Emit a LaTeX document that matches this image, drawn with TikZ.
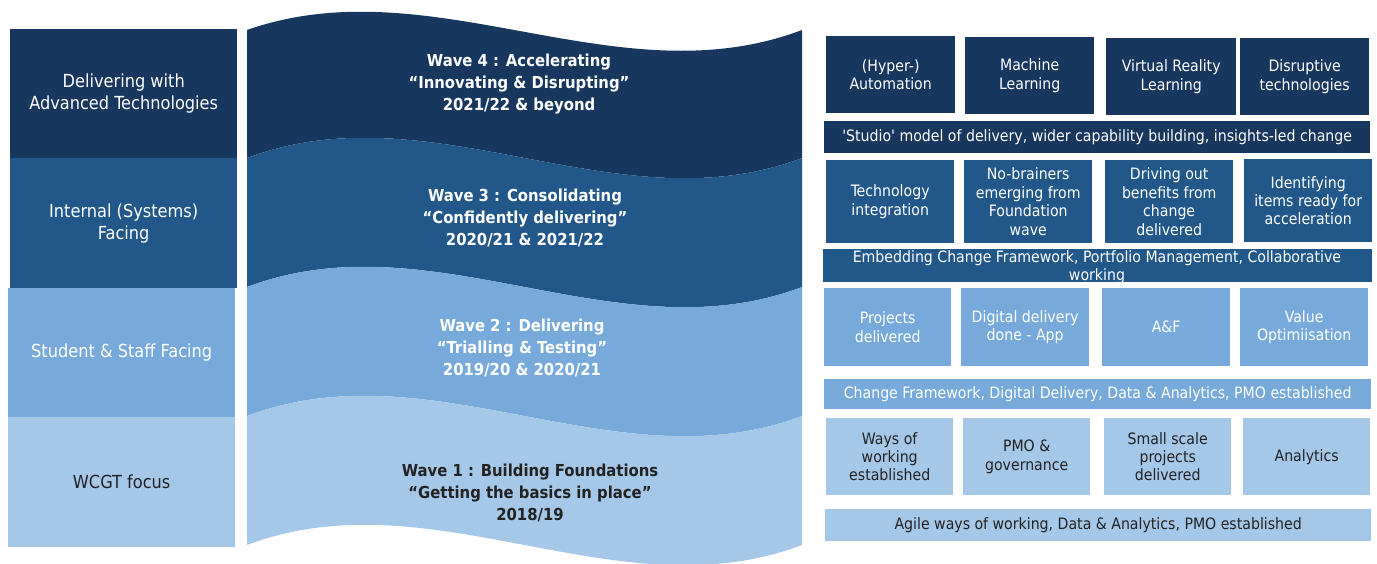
\documentclass[tikz,border=0pt]{standalone}
\usepackage{fontspec}
\setmainfont{DejaVu Sans Condensed}
\definecolor{cA}{HTML}{17375E}
\definecolor{cB}{HTML}{22578A}
\definecolor{cC}{HTML}{77AADB}
\definecolor{cD}{HTML}{A6C8E8}
\definecolor{tD}{HTML}{222222}
\newcommand{\bx}[8]{\node[fill=#6,text=#7,minimum width={#4-#2},minimum height={#5-#3},anchor=north west,inner sep=0pt,align=center] (#1) at (#2,#3) {#8};}
\tikzset{
  big/.style={font=\fontsize{18}{22}\selectfont},
  bigb/.style={font=\fontsize{16.5}{22}\selectfont\bfseries, align=center, inner sep=0pt},
  sm/.style={font=\fontsize{15.7}{18.4}\selectfont},
}
\begin{document}
\begin{tikzpicture}[x=1pt,y=-1pt]
\useasboundingbox (0,0) rectangle (1377,563);
% left column
\begin{scope}[big]
\bx{l4}{10}{29}{237}{158}{cA}{white}{Delivering with\\Advanced Technologies}
\bx{l3}{10}{158}{237}{288}{cB}{white}{Internal (Systems)\\Facing}
\bx{l2}{8}{288}{235}{417}{cC}{white}{Student \& Staff Facing}
\bx{l1}{8}{417}{235}{547}{cD}{tD}{WCGT focus}
\end{scope}
% waves
\fill[cA] (247,30) .. controls (432,-35) and (617,100) .. (802,30) -- (802,158) .. controls (617,228) and (432,88) .. (247,158) -- cycle;
\fill[cB] (247,158) .. controls (432,88) and (617,228) .. (802,158) -- (802,287) .. controls (617,357) and (432,217) .. (247,287) -- cycle;
\fill[cC] (247,287) .. controls (432,217) and (617,357) .. (802,287) -- (802,416) .. controls (617,486) and (432,346) .. (247,416) -- cycle;
\fill[cD] (247,416) .. controls (432,346) and (617,486) .. (802,416) -- (802,545) .. controls (617,615) and (432,475) .. (247,545) -- cycle;
\node[bigb,text=white] (w4) at (519,84) {Wave 4 : Accelerating\\“Innovating \& Disrupting”\\2021/22 \& beyond};
\node[bigb,text=white] (w3) at (525,218) {Wave 3 : Consolidating\\“Confidently delivering”\\2020/21 \& 2021/22};
\node[bigb,text=white] (w2) at (522,348) {Wave 2 : Delivering\\“Trialling \& Testing”\\2019/20 \& 2020/21};
\node[bigb,text=tD] (w1) at (530,493) {Wave 1 : Building Foundations\\“Getting the basics in place”\\2018/19};
% right panel
\begin{scope}[sm]
\bx{a1}{826}{36}{955}{113}{cA}{white}{(Hyper-)\\Automation}
\bx{a2}{965}{37}{1094}{114}{cA}{white}{Machine\\Learning}
\bx{a3}{1106}{38}{1236}{115}{cA}{white}{Virtual Reality\\Learning}
\bx{a4}{1240}{38}{1369}{115}{cA}{white}{Disruptive\\technologies}
\bx{sa}{824}{121}{1370}{153}{cA}{white}{\textquotesingle Studio\textquotesingle\ model of delivery, wider capability building, insights-led change}
\bx{b1}{826}{160}{954}{243}{cB}{white}{Technology\\integration}
\bx{b2}{964}{160}{1092}{243}{cB}{white}{No-brainers\\emerging from\\Foundation\\wave}
\bx{b3}{1105}{160}{1233}{243}{cB}{white}{Driving out\\benefits from\\change\\delivered}
\bx{b4}{1244}{159}{1372}{242}{cB}{white}{Identifying\\items ready for\\acceleration}
\fill[cB] (823,249) rectangle (1372,282);
\node[text=white,align=center,inner sep=0pt] (sb) at (1097,267) {Embedding Change Framework, Portfolio Management,  Collaborative\\working};
\bx{c1}{824}{288}{951}{366}{cC}{white}{Projects\\delivered}
\bx{c2}{961}{288}{1089}{366}{cC}{white}{Digital delivery\\done - App}
\bx{c3}{1102}{288}{1230}{366}{cC}{white}{A\&F}
\bx{c4}{1240}{288}{1368}{366}{cC}{white}{Value\\Optimiisation}
\bx{sc}{824}{379}{1371}{409}{cC}{white}{Change Framework, Digital Delivery, Data \& Analytics, PMO established}
\bx{d1}{826}{418}{953}{495}{cD}{tD}{Ways of\\working\\established}
\bx{d2}{963}{418}{1090}{495}{cD}{tD}{PMO \&\\governance}
\bx{d3}{1104}{418}{1231}{495}{cD}{tD}{Small scale\\projects\\delivered}
\bx{d4}{1243}{418}{1370}{495}{cD}{tD}{Analytics}
\bx{sd}{825}{509}{1371}{541}{cD}{tD}{Agile ways of working, Data \& Analytics, PMO established}
\end{scope}
\end{tikzpicture}
\end{document}
